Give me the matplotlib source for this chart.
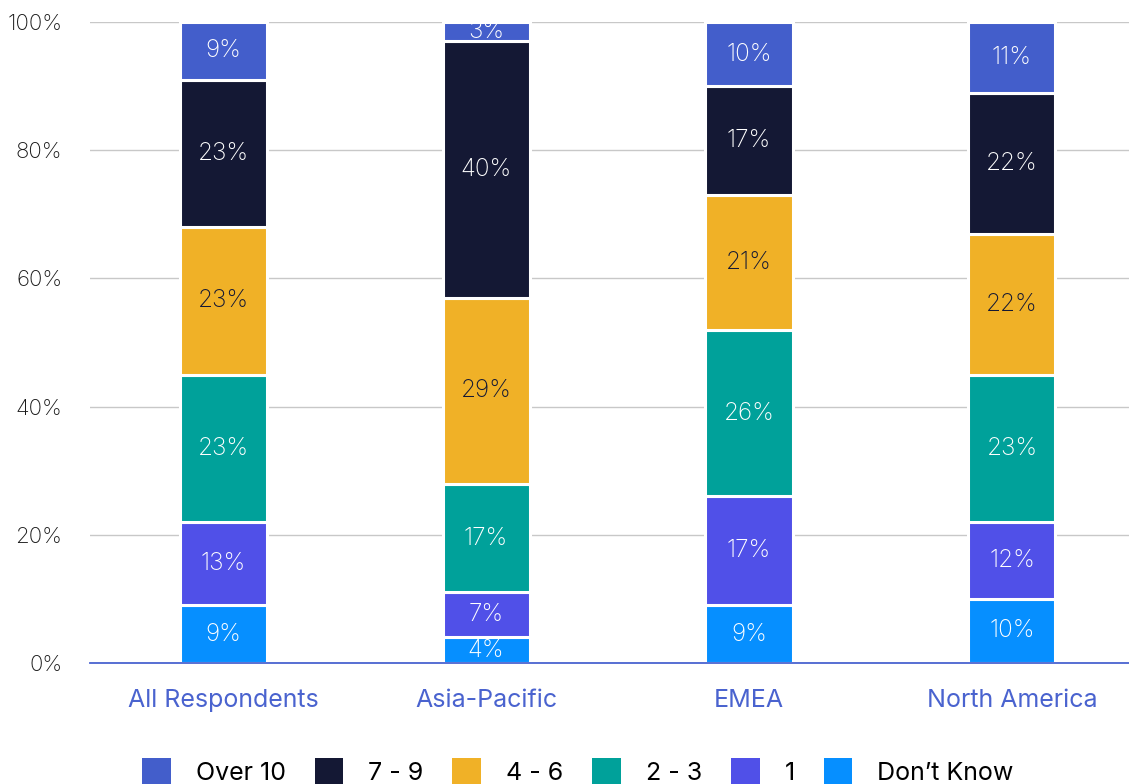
import matplotlib
matplotlib.use("Agg")
import matplotlib.pyplot as plt
from matplotlib.patches import Patch
import numpy as np

plt.rcParams['font.family'] = ['Inter', 'DejaVu Sans']

regions = ["All Respondents", "Asia-Pacific", "EMEA", "North America"]
series_names = ["Don\u2019t Know", "1", "2 - 3", "4 - 6", "7 - 9", "Over 10"]
dont_know = [9, 4, 9, 10]
one = [13, 7, 17, 12]
two_three = [23, 17, 26, 23]
four_six = [23, 29, 21, 22]
seven_nine = [23, 40, 17, 22]
over_ten = [9, 3, 10, 11]
yticks = [0, 20, 40, 60, 80, 100]

series_values = [dont_know, one, two_three, four_six, seven_nine, over_ten]
colors = ["#068FFF", "#5050E8", "#00A19A", "#F0B127", "#141834", "#435ECB"]
text_colors = ["white", "white", "white", "#141834", "white", "white"]

fig = plt.figure(figsize=(11.29, 7.84), dpi=100)
ax = fig.add_axes([90 / 1129, 1 - 663 / 784, 1 - 90 / 1129, (663 - 22) / 784])

x = np.arange(len(regions))
bottom = np.zeros(len(regions))
for vals, col, tcol in zip(series_values, colors, text_colors):
    vals = np.array(vals, dtype=float)
    ax.bar(x, vals, bottom=bottom, width=0.331, color=col,
           edgecolor="white", linewidth=2.2, zorder=2)
    for xi, b, v in zip(x, bottom, vals):
        ax.text(xi, b + v / 2, f"{int(v)}%", ha="center", va="center",
                color=tcol, fontsize=17.5, fontweight="light", zorder=3,
                clip_on=True)
    bottom += vals

ax.set_xlim(-0.506, 3.445)
ax.set_ylim(0, 100)
ax.set_yticks(yticks)
ax.set_yticklabels([f"{t}%" for t in yticks], fontsize=16, color="#1a1a1a",
                   fontweight="light")
ax.set_xticks(x)
ax.set_xticklabels(regions, fontsize=18, color="#4A63CF")
ax.tick_params(axis="both", length=0)
ax.tick_params(axis="y", pad=20)
ax.tick_params(axis="x", pad=19)
ax.grid(axis="y", color="#c8c8c8", linewidth=1, zorder=0)
ax.set_axisbelow(True)
for s in ["top", "right", "left"]:
    ax.spines[s].set_visible(False)
ax.spines["bottom"].set_color("#4A63D0")
ax.spines["bottom"].set_linewidth(1.3)
ax.spines["bottom"].set_zorder(4)

handles = [Patch(facecolor=c, edgecolor="none") for c in colors[::-1]]
fig.legend(handles, series_names[::-1], loc="upper center",
           bbox_to_anchor=(578 / 1129, 1 - 758 / 784), ncol=6, frameon=False,
           fontsize=18, handlelength=1.15, handleheight=1.3,
           handletextpad=1.0, columnspacing=1.15, borderaxespad=0,
           borderpad=0)

fig.savefig("out.png", dpi=100)
